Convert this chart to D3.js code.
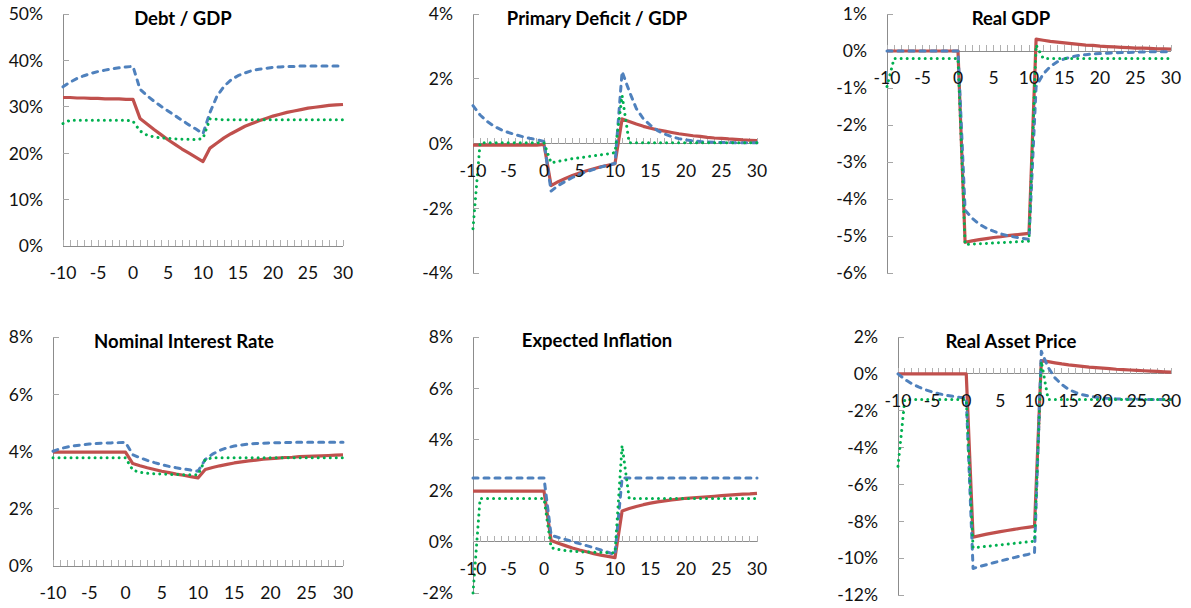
<!DOCTYPE html>
<html><head><meta charset="utf-8">
<script src="https://cdn.jsdelivr.net/npm/d3@7"></script>
<style>body{margin:0;background:#fff}svg{display:block}</style>
</head><body><svg id="c" width="1191" height="608"></svg>
<script>
// ---- categories ----
const periods = [-10,-9,-8,-7,-6,-5,-4,-3,-2,-1,0,1,2,3,4,5,6,7,8,9,10,11,12,13,14,15,16,17,18,19,20,21,22,23,24,25,26,27,28,29,30];
const xTickLabels = [-10,-5,0,5,10,15,20,25,30];

// ---- tick labels (percent) ----
const debtTicks = [0,10,20,30,40,50];
const deficitTicks = [-4,-2,0,2,4];
const gdpTicks = [-6,-5,-4,-3,-2,-1,0,1];
const rateTicks = [0,2,4,6,8];
const inflTicks = [-2,0,2,4,6,8];
const assetTicks = [-12,-10,-8,-6,-4,-2,0,2];

// ---- series values (percent) ----
const debtRed = [32.0,32.0,31.9,31.9,31.8,31.8,31.7,31.7,31.7,31.6,31.6, 27.5,26.3,25.1,24.0,22.9,21.9,20.9,20.0,19.1,18.2, 21.1,22.2,23.3,24.2,25.0,25.8,26.4,27.0,27.5,28.0,28.4,28.8,29.1,29.4,29.7,29.9,30.1,30.3,30.4,30.5];
const debtBlue = [34.3,35.3,36.1,36.7,37.2,37.6,37.9,38.2,38.4,38.6,38.7, 33.8,32.4,31.2,30.1,29.1,28.1,27.1,26.1,25.2,24.2, 28.8,32.3,34.4,35.8,36.7,37.3,37.8,38.1,38.3,38.5,38.6,38.7,38.7,38.8,38.8,38.8,38.8,38.8,38.8,38.8];
const debtGreen = [26.4,27.1,27.1,27.1,27.1,27.1,27.1,27.1,27.1,27.1,26.9, 24.8,23.9,23.5,23.3,23.2,23.1,23.0,23.0,22.9,23.2, 27.4,27.3,27.2,27.2,27.2,27.2,27.2,27.2,27.2,27.2,27.2,27.2,27.2,27.2,27.2,27.2,27.2,27.2,27.2,27.2];

const defRed = [-0.05,-0.05,-0.05,-0.05,-0.05,-0.05,-0.05,-0.05,-0.05,-0.05,-0.03, -1.30,-1.18,-1.08,-0.99,-0.91,-0.84,-0.78,-0.72,-0.67,-0.62, 0.76,0.68,0.60,0.53,0.47,0.42,0.38,0.34,0.30,0.27,0.24,0.22,0.19,0.17,0.16,0.14,0.13,0.11,0.10,0.09];
const defBlue = [1.17,0.88,0.68,0.53,0.42,0.34,0.27,0.21,0.16,0.12,0.06, -1.47,-1.30,-1.17,-1.05,-0.95,-0.87,-0.80,-0.73,-0.67,-0.62, 2.22,1.62,1.08,0.76,0.56,0.40,0.29,0.21,0.15,0.11,0.08,0.06,0.05,0.04,0.03,0.03,0.02,0.02,0.02,0.02];
const defGreen = [-2.63,0.02,0.02,0.02,0.02,0.02,0.02,0.02,0.02,0.02,0.02, -0.60,-0.55,-0.51,-0.47,-0.44,-0.41,-0.38,-0.35,-0.32,-0.28, 1.48,0.02,0.02,0.02,0.02,0.02,0.02,0.02,0.02,0.02,0.02,0.02,0.02,0.02,0.02,0.02,0.02,0.02,0.02,0.02];

const gdpRed = [0,0,0,0,0,0,0,0,0,0,0, -5.17,-5.13,-5.10,-5.07,-5.04,-5.02,-4.99,-4.97,-4.95,-4.93, 0.32,0.29,0.26,0.24,0.22,0.20,0.18,0.16,0.15,0.13,0.12,0.11,0.10,0.09,0.08,0.08,0.07,0.06,0.06,0.05];
const gdpBlue = [0,0,0,0,0,0,0,0,0,0,0, -4.30,-4.52,-4.68,-4.79,-4.87,-4.94,-4.99,-5.03,-5.06,-5.09, -0.96,-0.62,-0.42,-0.29,-0.21,-0.16,-0.12,-0.10,-0.08,-0.07,-0.06,-0.05,-0.04,-0.04,-0.03,-0.03,-0.02,-0.02,-0.02,-0.02];
const gdpGreen = [-0.96,-0.20,-0.20,-0.20,-0.20,-0.20,-0.20,-0.20,-0.20,-0.20,-0.20, -5.23,-5.22,-5.21,-5.20,-5.19,-5.18,-5.17,-5.16,-5.15,-5.14, 0.16,-0.20,-0.20,-0.20,-0.20,-0.20,-0.20,-0.20,-0.20,-0.20,-0.20,-0.20,-0.20,-0.20,-0.20,-0.20,-0.20,-0.20,-0.20,-0.20];

const rateRed = [3.98,3.98,3.98,3.98,3.98,3.98,3.98,3.98,3.98,3.98,3.98, 3.58,3.50,3.43,3.37,3.31,3.26,3.21,3.17,3.12,3.08, 3.37,3.44,3.50,3.55,3.60,3.64,3.67,3.70,3.73,3.75,3.77,3.79,3.80,3.82,3.83,3.84,3.85,3.86,3.87,3.88];
const rateBlue = [4.01,4.10,4.16,4.20,4.23,4.26,4.28,4.29,4.30,4.31,4.32, 3.89,3.78,3.69,3.61,3.54,3.48,3.43,3.39,3.35,3.31, 3.72,3.91,4.04,4.13,4.19,4.23,4.26,4.28,4.29,4.30,4.31,4.31,4.32,4.32,4.32,4.32,4.32,4.32,4.32,4.32];
const rateGreen = [3.78,3.78,3.78,3.78,3.78,3.78,3.78,3.78,3.78,3.78,3.78, 3.35,3.27,3.24,3.22,3.21,3.20,3.20,3.19,3.19,3.19, 3.72,3.78,3.78,3.78,3.78,3.78,3.78,3.78,3.78,3.78,3.78,3.78,3.78,3.78,3.78,3.78,3.78,3.78,3.78,3.78];

const inflRed = [1.98,1.98,1.98,1.98,1.98,1.98,1.98,1.98,1.98,1.98,1.98, 0.05,-0.06,-0.15,-0.24,-0.32,-0.39,-0.46,-0.52,-0.57,-0.62, 1.20,1.30,1.38,1.45,1.51,1.56,1.60,1.64,1.67,1.70,1.72,1.74,1.76,1.78,1.80,1.82,1.84,1.86,1.87,1.89];
const inflBlue = [2.49,2.49,2.49,2.49,2.49,2.49,2.49,2.49,2.49,2.49,2.49, 0.26,0.17,0.09,0.01,-0.07,-0.15,-0.23,-0.32,-0.41,-0.50, 2.49,2.49,2.49,2.49,2.49,2.49,2.49,2.49,2.49,2.49,2.49,2.49,2.49,2.49,2.49,2.49,2.49,2.49,2.49,2.49];
const inflGreen = [-2.00,1.69,1.69,1.69,1.69,1.69,1.69,1.69,1.69,1.69,1.69, -0.23,-0.30,-0.34,-0.37,-0.39,-0.40,-0.41,-0.42,-0.43,-0.43, 3.76,1.69,1.69,1.69,1.69,1.69,1.69,1.69,1.69,1.69,1.69,1.69,1.69,1.69,1.69,1.69,1.69,1.69,1.69,1.69];

const assetRed = [0,0,0,0,0,0,0,0,0,0,0, -8.86,-8.78,-8.70,-8.63,-8.56,-8.50,-8.44,-8.38,-8.33,-8.28, 0.72,0.66,0.60,0.54,0.49,0.45,0.41,0.37,0.34,0.31,0.28,0.25,0.23,0.21,0.19,0.17,0.15,0.13,0.11,0.09];
const assetBlue = [0,-0.30,-0.53,-0.71,-0.86,-0.98,-1.08,-1.16,-1.22,-1.27,-1.31, -10.56,-10.45,-10.35,-10.25,-10.15,-10.06,-9.97,-9.88,-9.80,-9.71, 1.22,0.35,-0.22,-0.58,-0.84,-1.01,-1.13,-1.21,-1.27,-1.31,-1.34,-1.36,-1.37,-1.38,-1.38,-1.39,-1.39,-1.39,-1.39,-1.39];
const assetGreen = [-5.02,-1.39,-1.39,-1.39,-1.39,-1.39,-1.39,-1.39,-1.39,-1.39,-1.39, -9.44,-9.40,-9.36,-9.32,-9.28,-9.24,-9.20,-9.16,-9.12,-9.08, 0.68,-1.39,-1.39,-1.39,-1.39,-1.39,-1.39,-1.39,-1.39,-1.39,-1.39,-1.39,-1.39,-1.39,-1.39,-1.39,-1.39,-1.39,-1.39,-1.39];

// ---- layout (positions & styles) ----
const panels = [
  {title:"Debt / GDP", ticks:debtTicks, s:[debtRed,debtBlue,debtGreen], x0:63, x1:343, y0:14, y1:246, tx:183, ty:18},
  {title:"Primary Deficit / GDP", ticks:deficitTicks, s:[defRed,defBlue,defGreen], x0:473, x1:757, y0:14, y1:273, tx:597, ty:18},
  {title:"Real GDP", ticks:gdpTicks, s:[gdpRed,gdpBlue,gdpGreen], x0:887, x1:1171, y0:14, y1:273, tx:1011, ty:18},
  {title:"Nominal Interest Rate", ticks:rateTicks, s:[rateRed,rateBlue,rateGreen], x0:53, x1:343, y0:337, y1:566, tx:184, ty:341},
  {title:"Expected Inflation", ticks:inflTicks, s:[inflRed,inflBlue,inflGreen], x0:473, x1:757, y0:337, y1:593, tx:597, ty:340},
  {title:"Real Asset Price", ticks:assetTicks, s:[assetRed,assetBlue,assetGreen], x0:898, x1:1171, y0:337, y1:595, tx:1011, ty:341}
];
const styles = [
  {color:"#C0504D", width:3.2, dash:null, cap:"butt"},
  {color:"#4F81BD", width:3, dash:"5,6", cap:"round"},
  {color:"#00B050", width:3, dash:"0.01,6", cap:"round"}
];
const FONT = "Lato, 'Open Sans', sans-serif";

const svg = d3.select("#c");
panels.forEach(p => {
  const g = svg.append("g");
  const x = d3.scaleLinear().domain([-10, 30]).range([p.x0, p.x1]);
  const y = d3.scaleLinear().domain([d3.min(p.ticks), d3.max(p.ticks)]).range([p.y1, p.y0]);
  const y0 = y(0);

  // y axis line + inside ticks
  g.append("line").attr("x1", p.x0).attr("x2", p.x0).attr("y1", p.y0).attr("y2", p.y1)
    .attr("stroke", "#8c8c8c").attr("stroke-width", 1).attr("shape-rendering","crispEdges");
  g.selectAll(".yt").data(p.ticks).enter().append("line")
    .attr("x1", p.x0).attr("x2", p.x0 + 6).attr("y1", d => y(d)).attr("y2", d => y(d))
    .attr("stroke", "#a6a6a6").attr("stroke-width", 1).attr("shape-rendering","crispEdges");

  // x axis at zero + per-period ticks
  g.append("line").attr("x1", p.x0).attr("x2", p.x1).attr("y1", y0).attr("y2", y0)
    .attr("stroke", "#8c8c8c").attr("stroke-width", 1).attr("shape-rendering","crispEdges");
  g.selectAll(".xt").data(periods).enter().append("line")
    .attr("x1", d => x(d)).attr("x2", d => x(d)).attr("y1", y0 - 6).attr("y2", y0)
    .attr("stroke", "#b0b0b0").attr("stroke-width", 1).attr("shape-rendering","crispEdges");

  // series
  const line = d3.line().x((d, i) => x(periods[i])).y(d => y(d));
  p.s.forEach((vals, k) => {
    const st = styles[k];
    g.append("path").datum(vals).attr("d", line)
      .attr("fill", "none").attr("stroke", st.color).attr("stroke-width", st.width)
      .attr("stroke-dasharray", st.dash).attr("stroke-linecap", st.cap).attr("stroke-linejoin","round");
  });

  // y labels
  g.selectAll(".yl").data(p.ticks).enter().append("text")
    .attr("x", p.x0 - 20).attr("y", d => y(d)).attr("dy", "0.36em")
    .attr("text-anchor", "end").attr("font-family", FONT).attr("font-size", 17.5).attr("fill", "#111")
    .text(d => d + "%");
  // x labels
  g.selectAll(".xl").data(xTickLabels).enter().append("text")
    .attr("x", d => x(d)).attr("y", y0 + 27).attr("dy", "0.36em")
    .attr("text-anchor", "middle").attr("font-family", FONT).attr("font-size", 17.5).attr("fill", "#111")
    .text(d => d);
  // title
  g.append("text").attr("x", p.tx).attr("y", p.ty).attr("dy", "0.36em")
    .attr("text-anchor", "middle").attr("font-family", FONT).attr("font-weight", "bold")
    .attr("font-size", 18.5).attr("fill", "#000").text(p.title);
});
</script></body></html>
